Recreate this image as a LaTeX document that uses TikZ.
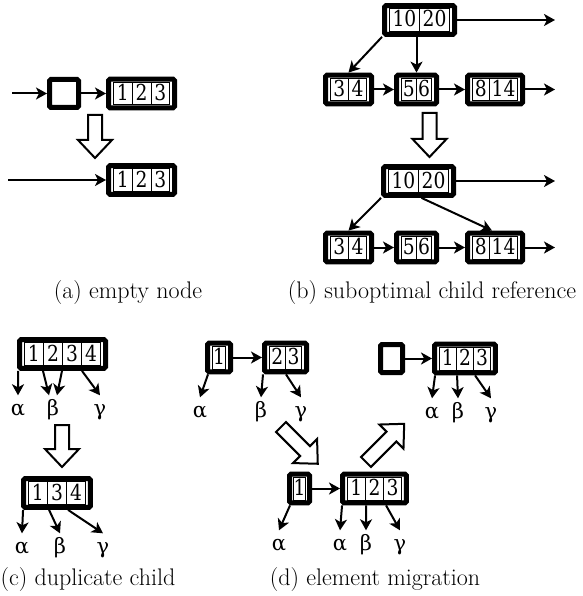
\documentclass[tikz,border=0pt]{standalone}
\usepackage{fontspec}
\usetikzlibrary{arrows.meta}
\newfontfamily\lsfont{DejaVu Serif}[FakeStretch=0.85]
\newfontfamily\grfont{DejaVu Serif}
\setlength{\fboxsep}{0pt}
\setlength{\fboxrule}{0.6pt}
\newcommand{\cl}[2][18]{\makebox[#1pt]{\rule[-4pt]{0pt}{22pt}#2}}
\newcommand{\sep}{\vrule width 0.6pt}
\newcommand{\cells}[1]{\fbox{\lsfont\fontsize{22}{22}\selectfont #1}}
\newcommand{\harrow}[3]{%
  \begin{scope}[shift={(#1)},rotate=#2]
  \draw[hollow] (0,-7) -- ({#3-18},-7) -- ({#3-18},-17) -- (#3,0) -- ({#3-18},17) -- ({#3-18},7) -- (0,7) -- cycle;
  \end{scope}}
\tikzset{
 frame/.style={draw, line width=5pt, fill=white, rounded corners=1.5pt, inner xsep=4.5pt, inner ysep=2.8pt, outer sep=2.5pt},
 conn/.style={line width=2pt, -{Stealth[length=11pt,width=12pt,inset=3pt]}},
 hollow/.style={line width=2pt, fill=white, line join=miter},
 glabel/.style={font=\grfont\fontsize{21}{21}\selectfont, inner sep=0pt, text height=20pt, text depth=0pt, anchor=base},
 captxt/.style={font=\fontsize{24}{28}\selectfont, inner sep=0pt},
}
\begin{document}
\begin{tikzpicture}[x=1pt,y=-1pt]
\useasboundingbox[fill=white] (0,0) rectangle (582,596);
% (a)
\node[frame, minimum width=29pt, minimum height=28pt] (e1) at (64,93.5) {};
\node[frame] (a1) at (141.5,93.5) {\cells{\cl[18.2]{1}\sep\cl[18.2]{2}\sep\cl[18.2]{3}}};
\node[frame] (a2) at (141.5,180) {\cells{\cl[18.2]{1}\sep\cl[18.2]{2}\sep\cl[18.2]{3}}};
\coordinate (ain) at (12,93.5);
\coordinate (ain2) at (8,180);
\draw[conn] (ain) -- (e1);
\draw[conn] (e1) -- (a1);
\draw[conn] (ain2) -- (a2);
\harrow{95,115}{-90}{43}
% (b)
\node[frame] (b1) at (419.5,20) {\cells{\cl[29.6]{10}\sep\cl[29.6]{20}}};
\node[frame] (b2) at (348.5,89.5) {\cells{\cl[17.6]{3}\sep\cl[17.6]{4}}};
\node[frame] (b3) at (416.5,89.5) {\cells{\cl[14.6]{5}\sep\cl[14.6]{6}}};
\node[frame] (b4) at (495,89.5) {\cells{\cl[16.5]{8}\sep\cl[27.7]{14}}};
\coordinate (bo1) at (555,20);
\coordinate (bo2) at (555,89.5);
\draw[conn] (b1) -- (bo1);
\draw[conn] (b1.south west) -- (b2.north);
\draw[conn] (b3.north |- b1.south) -- (b3.north);
\draw[conn] (b2) -- (b3);
\draw[conn] (b3) -- (b4);
\draw[conn] (b4) -- (bo2);
\harrow{429.5,113}{-90}{44}
\node[frame] (b5) at (418.5,181) {\cells{\cl[29.6]{10}\sep\cl[29.6]{20}}};
\node[frame] (b6) at (348.5,247.5) {\cells{\cl[17.6]{3}\sep\cl[17.6]{4}}};
\node[frame] (b7) at (416.5,247.5) {\cells{\cl[14.6]{5}\sep\cl[14.6]{6}}};
\node[frame] (b8) at (495,247.5) {\cells{\cl[16.5]{8}\sep\cl[27.7]{14}}};
\coordinate (bo3) at (555,181);
\coordinate (bo4) at (555,247.5);
\draw[conn] (b5) -- (bo3);
\draw[conn] (b5.south west) -- (b6.north);
\draw[conn] ([xshift=3pt]b5.south) -- ([xshift=-3pt]b8.north);
\draw[conn] (b6) -- (b7);
\draw[conn] (b7) -- (b8);
\draw[conn] (b8) -- (bo4);
% (c)
\node[frame] (c1) at (62.5,354) {\cells{\cl[18.5]{1}\sep\cl[18.5]{2}\sep\cl[18.5]{3}\sep\cl[18.5]{4}}};
\node[glabel] (ca1) at (18,415.5) {α};
\node[glabel] (cb1) at (53,415.5) {β};
\node[glabel] (cg1) at (100,415.5) {γ};
\draw[conn] ([xshift=1pt]c1.south west) -- (ca1.north);
\draw[conn] ([xshift=26pt]c1.south west) -- ([xshift=-4pt]cb1.north);
\draw[conn] ([xshift=45pt]c1.south west) -- ([xshift=4pt]cb1.north);
\draw[conn] ([xshift=65pt]c1.south west) -- (cg1.north);
\harrow{62,425}{-90}{42}
\node[frame] (c2) at (57,493) {\cells{\cl[18.5]{1}\sep\cl[18.5]{3}\sep\cl[18.5]{4}}};
\node[glabel] (ca2) at (22,553.5) {α};
\node[glabel] (cb2) at (60,553.5) {β};
\node[glabel] (cg2) at (103,553.5) {γ};
\draw[conn] ([xshift=2pt]c2.south west) -- (ca2.north);
\draw[conn] ([xshift=28pt]c2.south west) -- (cb2.north);
\draw[conn] ([xshift=47pt]c2.south west) -- (cg2.north);
% (d)
\node[frame] (d1) at (219,357.5) {\cells{\cl[12.8]{1}}};
\node[frame] (d2) at (285.5,357.5) {\cells{\cl[15.6]{2}\sep\cl[15.6]{3}}};
\draw[conn] (d1) -- (d2);
\node[glabel] (da1) at (200,417.5) {α};
\node[glabel] (db1) at (261,417.5) {β};
\node[glabel] (dg1) at (301,417.5) {γ};
\draw[conn] ([xshift=3pt]d1.south west) -- (da1.north);
\draw[conn] ([xshift=1pt]d2.south west) -- (db1.north);
\draw[conn] ([xshift=24pt]d2.south west) -- (dg1.north);
\harrow{281,427}{-45}{52}
\node[frame, inner xsep=3.5pt] (d3) at (299.5,488.5) {\cells{\cl[11.8]{1}}};
\node[frame] (d4) at (374.5,488.5) {\cells{\cl[17.5]{1}\sep\cl[17.5]{2}\sep\cl[17.5]{3}}};
\draw[conn] (d3) -- (d4);
\node[glabel] (da2) at (279,550.5) {α};
\node[glabel] (da3) at (340,550.5) {α};
\node[glabel] (db3) at (366,550.5) {β};
\node[glabel] (dg3) at (400,550.5) {γ};
\draw[conn] ([xshift=3pt]d3.south west) -- (da2.north);
\draw[conn] ([xshift=2pt]d4.south west) -- (da3.north);
\draw[conn] ([xshift=26pt]d4.south west) -- (db3.north);
\draw[conn] ([xshift=46pt]d4.south west) -- (dg3.north);
\harrow{366,462}{45}{54}
\node[frame, minimum width=22pt, minimum height=28pt] (d5) at (391.5,358.5) {};
\node[frame] (d6) at (465,358.5) {\cells{\cl[16.5]{1}\sep\cl[16.5]{2}\sep\cl[16.5]{3}}};
\draw[conn] (d5) -- (d6);
\node[glabel] (da4) at (432,418.5) {α};
\node[glabel] (db4) at (458,418.5) {β};
\node[glabel] (dg4) at (491,418.5) {γ};
\draw[conn] ([xshift=3pt]d6.south west) -- (da4.north);
\draw[conn] ([xshift=25pt]d6.south west) -- (db4.north);
\draw[conn] ([xshift=43pt]d6.south west) -- (dg4.north);
% captions
\node[captxt] (capa) at (128,293) {(a) empty node};
\node[captxt] (capb) at (432,293) {(b) suboptimal child reference};
\node[captxt] (capc) at (88,580) {(c) duplicate child};
\node[captxt] (capd) at (375,580) {(d) element migration};
\end{tikzpicture}
\end{document}
